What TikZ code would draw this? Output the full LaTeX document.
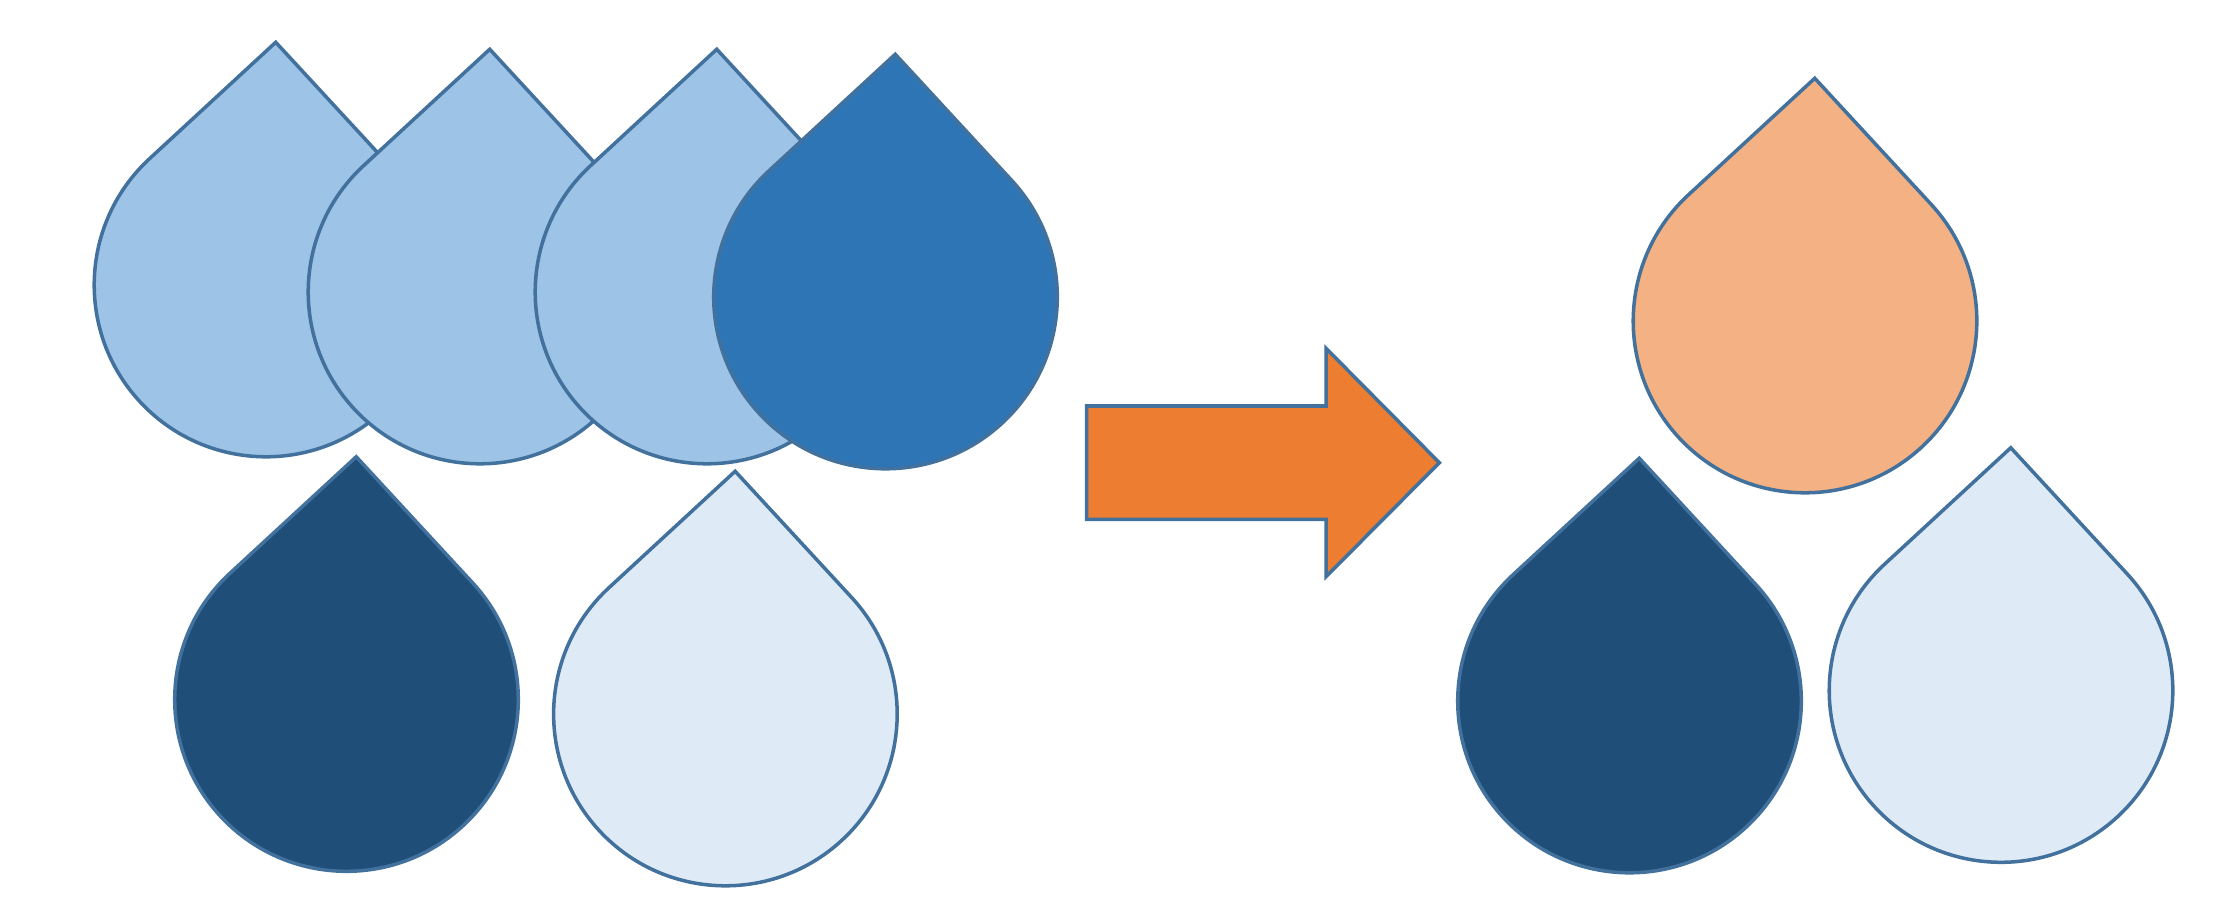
\documentclass[tikz,border=0pt]{standalone}
\usetikzlibrary{positioning}
\definecolor{sky}{HTML}{9DC3E6}
\definecolor{sea}{HTML}{2E75B6}
\definecolor{navy}{HTML}{1F4E79}
\definecolor{ice}{HTML}{DEEBF7}
\definecolor{peach}{HTML}{F4B183}
\definecolor{flame}{HTML}{ED7D31}
\definecolor{rim}{HTML}{41719C}
\begin{document}
\begin{tikzpicture}[
      x=0.01cm, y=0.01cm,
      goutte/.pic={
        \draw[pic actions] (135:1.717cm)
          arc[start angle=135, end angle=405, radius=1.717cm]
          -- (0cm,2.428cm) -- cycle;
      },
      drop/.style={draw=rim, line width=1pt, rotate=-2.3}
    ]
    \useasboundingbox (0,0) rectangle (2231,899);
    % rangee du haut, de gauche a droite
    \pic[drop, fill=sky] (g1) at (266,614) {goutte};
    \pic[drop, fill=sky] (g2) at (480,607) {goutte};
    \pic[drop, fill=sky] (g3) at (707,607) {goutte};
    \pic[drop, fill=sea] (g4) at (885.5,602) {goutte};
    % rangee du bas
    \pic[drop, fill=navy] (g5) at (346.5,199.5) {goutte};
    \pic[drop, fill=ice] (g6) at (725.4,185) {goutte};
    % fleche
    \draw[draw=rim, line width=1pt, fill=flame]
      (1086.7,493) -- (1326,493) -- (1326,550.7) -- (1439.3,436.3)
      -- (1326,322.3) -- (1326,379.7) -- (1086.7,379.7) -- cycle;
    % resultat
    \pic[drop, fill=peach] (g7) at (1805,578) {goutte};
    \pic[drop, fill=navy] (g8) at (1629.5,198) {goutte};
    \pic[drop, fill=ice] (g9) at (2001,208.5) {goutte};
  \end{tikzpicture}
\end{document}
